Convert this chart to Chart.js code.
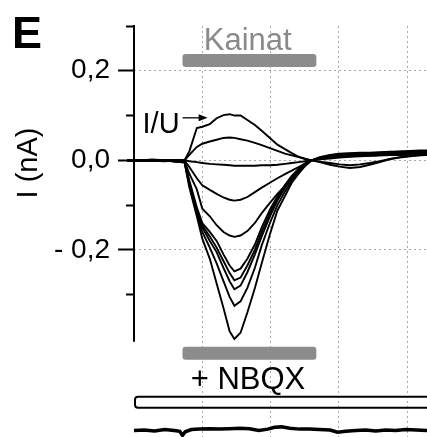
<!DOCTYPE html>
<html>
<head>
<meta charset="utf-8">
<script src="https://cdn.jsdelivr.net/npm/chart.js@4.4.1/dist/chart.umd.min.js"></script>
<style>
  html, body { margin: 0; padding: 0; background: #fff; }
  canvas { display: block; }
</style>
</head>
<body>
<canvas id="chart" width="427" height="437"></canvas>
<script>
// ===================== Data =====================
// sample times, one grid division = 1
const timePts = [-0.26, -0.10, 0.08, 0.26, 0.43, 0.59, 0.74, 0.81, 0.92, 1.00,
  1.11, 1.21, 1.31, 1.40, 1.47, 1.56, 1.66, 1.77, 1.87, 1.99,
  2.10, 2.21, 2.31, 2.41, 2.51, 2.60, 2.72, 2.87, 3.01, 3.16,
  3.31, 3.45, 3.60, 3.75, 3.89, 4.04, 4.19, 4.29];

// currents in nA, kainate responses at increasing holding potentials
const traceA = [0.001, 0.000, -0.001, 0.002, 0.000, 0.001, 0.000, 0.020, 0.072, 0.075,
  0.081, 0.094, 0.101, 0.103, 0.100, 0.100, 0.090, 0.079, 0.066, 0.050,
  0.035, 0.025, 0.016, 0.008, 0.003, 0.000, -0.004, -0.010, -0.014, -0.017,
  -0.015, -0.010, -0.004, 0.003, 0.007, 0.010, 0.012, 0.013];
const traceB = [0.000, 0.001, 0.000, -0.001, 0.001, 0.000, 0.000, 0.012, 0.030, 0.037,
  0.042, 0.046, 0.050, 0.051, 0.050, 0.047, 0.044, 0.039, 0.034, 0.027,
  0.021, 0.015, 0.011, 0.007, 0.003, 0.000, -0.003, -0.006, -0.009, -0.011,
  -0.009, -0.006, -0.002, 0.003, 0.006, 0.009, 0.011, 0.012];
const traceC = [-0.001, 0.000, 0.001, 0.000, -0.001, 0.000, 0.000, -0.002, -0.004, -0.006,
  -0.008, -0.009, -0.010, -0.011, -0.012, -0.012, -0.012, -0.012, -0.011, -0.011,
  -0.010, -0.008, -0.006, -0.004, -0.002, 0.000, 0.002, 0.004, 0.006, 0.008,
  0.009, 0.010, 0.011, 0.012, 0.012, 0.013, 0.014, 0.014];
const traceD = [0.000, -0.001, 0.000, 0.001, -0.001, 0.000, -0.001, -0.015, -0.040, -0.056,
  -0.066, -0.075, -0.083, -0.088, -0.090, -0.088, -0.082, -0.071, -0.061, -0.050,
  -0.040, -0.031, -0.023, -0.015, -0.007, 0.000, 0.003, 0.006, 0.008, 0.009,
  0.010, 0.010, 0.011, 0.012, 0.012, 0.013, 0.014, 0.014];
const traceE = [0.001, 0.000, -0.001, 0.000, 0.001, -0.001, -0.002, -0.030, -0.065, -0.108,
  -0.125, -0.145, -0.160, -0.168, -0.171, -0.168, -0.158, -0.140, -0.118, -0.095,
  -0.075, -0.057, -0.040, -0.025, -0.011, 0.000, 0.004, 0.007, 0.010, 0.011,
  0.011, 0.012, 0.012, 0.013, 0.014, 0.015, 0.016, 0.016];
const traceF = [0.000, 0.001, 0.000, -0.001, 0.000, -0.002, -0.003, -0.045, -0.105, -0.140,
  -0.160, -0.180, -0.210, -0.235, -0.248, -0.242, -0.220, -0.188, -0.150, -0.110,
  -0.080, -0.055, -0.035, -0.019, -0.007, 0.000, 0.005, 0.009, 0.012, 0.013,
  0.013, 0.014, 0.014, 0.015, 0.016, 0.017, 0.018, 0.018];
const traceG = [-0.001, 0.000, 0.001, 0.000, -0.002, -0.001, -0.003, -0.050, -0.110, -0.145,
  -0.170, -0.195, -0.225, -0.252, -0.268, -0.262, -0.235, -0.200, -0.160, -0.118,
  -0.085, -0.058, -0.037, -0.020, -0.007, 0.000, 0.005, 0.009, 0.012, 0.014,
  0.014, 0.015, 0.015, 0.016, 0.017, 0.018, 0.019, 0.019];
const traceH = [0.000, -0.001, 0.000, 0.001, -0.001, -0.002, -0.004, -0.050, -0.115, -0.150,
  -0.180, -0.205, -0.240, -0.270, -0.288, -0.280, -0.250, -0.210, -0.170, -0.125,
  -0.090, -0.062, -0.040, -0.022, -0.008, 0.000, 0.006, 0.010, 0.013, 0.014,
  0.015, 0.015, 0.016, 0.017, 0.018, 0.019, 0.020, 0.020];
const traceI = [0.001, 0.000, -0.001, 0.000, 0.000, -0.002, -0.004, -0.055, -0.120, -0.160,
  -0.195, -0.230, -0.270, -0.305, -0.325, -0.315, -0.285, -0.240, -0.190, -0.140,
  -0.100, -0.070, -0.045, -0.025, -0.010, 0.000, 0.006, 0.011, 0.014, 0.015,
  0.016, 0.016, 0.017, 0.018, 0.019, 0.020, 0.021, 0.021];
const traceJ = [0.000, 0.001, 0.000, -0.001, 0.001, -0.003, -0.005, -0.060, -0.125, -0.175,
  -0.220, -0.275, -0.330, -0.382, -0.399, -0.385, -0.340, -0.285, -0.230, -0.165,
  -0.112, -0.080, -0.050, -0.030, -0.012, 0.000, 0.007, 0.012, 0.015, 0.016,
  0.017, 0.017, 0.018, 0.019, 0.020, 0.021, 0.022, 0.022];

// control recording with NBQX, plotted on its own offset axis
const nbqxTime = [0.00, 0.15, 0.30, 0.45, 0.59, 0.67, 0.71, 0.75, 0.84, 0.96,
  1.11, 1.25, 1.40, 1.55, 1.69, 1.83, 1.96, 2.06, 2.16, 2.28,
  2.43, 2.57, 2.71, 2.87, 2.98, 3.10, 3.25, 3.39, 3.54, 3.69,
  3.83, 3.98, 4.13, 4.29];
const nbqxTrace = [-0.001, 0.000, -0.002, 0.001, -0.001, -0.003, -0.012, -0.004, 0.001, 0.002,
  0.003, 0.002, 0.003, 0.004, 0.003, -0.001, 0.002, 0.006, 0.007, 0.004,
  0.002, 0.002, 0.001, 0.000, -0.005, -0.003, -0.001, 0.000, -0.002, 0.000,
  -0.001, 0.001, 0.000, -0.001];

const yTickValues = [0.3, 0.2, 0.1, 0, -0.1, -0.2, -0.3];
const yTickLabels = ['', '0,2', '', '0,0', '', '- 0,2', ''];
const yGridValues = [0.2, 0, -0.2];
const xGridValues = [1, 2, 3, 4];
const axisSpan = [0.3, -0.405];

// drug application periods (time units)
const kainatBar = [0.71, 2.67];
const nbqxBar = [0.71, 2.67];
const perfusionBar = [0.0, 4.4];

const traces = [traceA, traceB, traceC, traceD, traceE, traceF, traceG, traceH, traceI, traceJ];

// ===================== Styles =====================
const FONT = "'Liberation Sans', Arial, sans-serif";
const BAR_GRAY = '#8c8c8c';
const GRID_GRAY = '#a8a8a8';

const datasets = traces.map(vals => ({
  data: vals.map((v, i) => ({ x: timePts[i], y: v })),
  borderColor: '#000',
  borderWidth: 1.9,
  pointRadius: 0,
  tension: 0,
  clip: false,
  yAxisID: 'y',
}));
datasets.push({
  data: nbqxTrace.map((v, i) => ({ x: nbqxTime[i], y: v })),
  borderColor: '#000',
  borderWidth: 3.5,
  pointRadius: 0,
  tension: 0,
  clip: false,
  yAxisID: 'yNbqx',
});

// bars, labels, arrow and the shortened y axis line
const annotations = {
  id: 'annotations',
  afterDatasetsDraw(chart) {
    const { ctx, scales: { x, y } } = chart;
    ctx.save();

    // y axis line only over the recording range
    ctx.strokeStyle = '#000';
    ctx.lineWidth = 2;
    ctx.beginPath();
    ctx.moveTo(x.getPixelForValue(0), y.getPixelForValue(axisSpan[0]) - 1);
    ctx.lineTo(x.getPixelForValue(0), y.getPixelForValue(axisSpan[1]));
    ctx.stroke();

    const bar = (range, level, h, fill) => {
      const x0 = x.getPixelForValue(range[0]);
      const x1 = x.getPixelForValue(range[1]);
      const yc = y.getPixelForValue(level);
      ctx.beginPath();
      ctx.roundRect(x0, yc - h / 2, x1 - x0, h, 3);
      ctx.fillStyle = fill;
      ctx.fill();
    };
    bar(kainatBar, 0.223, 13, BAR_GRAY);
    bar(nbqxBar, -0.431, 13, BAR_GRAY);

    // open perfusion bar
    const px0 = x.getPixelForValue(perfusionBar[0]) + 1;
    const px1 = x.getPixelForValue(perfusionBar[1]);
    const pyc = y.getPixelForValue(-0.5405);
    ctx.beginPath();
    ctx.roundRect(px0, pyc - 5.5, px1 - px0, 11, 3);
    ctx.strokeStyle = '#000';
    ctx.lineWidth = 2;
    ctx.stroke();

    // texts
    ctx.textBaseline = 'alphabetic';
    ctx.textAlign = 'center';
    ctx.font = `31px ${FONT}`;
    ctx.fillStyle = '#8a8a8a';
    ctx.fillText('Kainat', x.getPixelForValue(1.665), y.getPixelForValue(0.247));
    ctx.fillStyle = '#000';
    ctx.fillText('+ NBQX', x.getPixelForValue(1.669), y.getPixelForValue(-0.5103));

    ctx.textAlign = 'left';
    ctx.font = `29px ${FONT}`;
    ctx.fillText('I/U', x.getPixelForValue(0.125), y.getPixelForValue(0.0614));

    // arrow to the outward trace
    const ax0 = x.getPixelForValue(0.711);
    const ax1 = x.getPixelForValue(1.078);
    const ay = y.getPixelForValue(0.0949);
    ctx.lineWidth = 1.3;
    ctx.beginPath();
    ctx.moveTo(ax0, ay);
    ctx.lineTo(ax1 - 6, ay);
    ctx.stroke();
    ctx.beginPath();
    ctx.moveTo(ax1, ay);
    ctx.lineTo(ax1 - 9, ay - 3.5);
    ctx.lineTo(ax1 - 9, ay + 3.5);
    ctx.closePath();
    ctx.fill();

    // panel letter
    ctx.font = `bold 45px ${FONT}`;
    ctx.fillText('E', 12, 48);

    // y axis title
    ctx.font = `29px ${FONT}`;
    ctx.translate(37, 163);
    ctx.rotate(-Math.PI / 2);
    ctx.textAlign = 'center';
    ctx.fillText('I (nA)', 0, 0);

    ctx.restore();
  },
};

// ===================== Chart =====================
new Chart(document.getElementById('chart'), {
  type: 'line',
  data: { datasets },
  plugins: [annotations],
  options: {
    responsive: false,
    animation: false,
    events: [],
    layout: { padding: { top: 26, right: 0, bottom: 0, left: 0 } },
    plugins: { legend: { display: false }, tooltip: { enabled: false } },
    scales: {
      x: {
        type: 'linear',
        min: 0,
        max: 4.29,
        afterBuildTicks: s => { s.ticks = xGridValues.map(v => ({ value: v })); },
        afterFit: s => { s.height = 0; },
        ticks: { display: false },
        border: { display: false, dash: [2, 3] },
        grid: { color: GRID_GRAY, lineWidth: 1, drawTicks: false },
      },
      y: {
        type: 'linear',
        min: -0.618,
        max: 0.3,
        afterBuildTicks: s => { s.ticks = yTickValues.map(v => ({ value: v })); },
        afterFit: s => { s.width = 134; s.paddingTop = 0; s.paddingBottom = 0; },
        ticks: {
          callback: v => yTickLabels[yTickValues.indexOf(v)],
          font: { family: FONT, size: 28 },
          color: '#000',
          padding: 8,
        },
        border: { display: false, dash: [2, 3] },
        grid: {
          color: c => yGridValues.includes(c.tick.value) ? GRID_GRAY : 'rgba(0,0,0,0)',
          lineWidth: 1,
          tickColor: '#000',
          tickWidth: 2,
          tickLength: 16,
          // short minor ticks: hide the outer half of the tick
          tickBorderDash: c => yTickLabels[yTickValues.indexOf(c.tick.value)] ? [] : [8, 8],
          tickBorderDashOffset: c => yTickLabels[yTickValues.indexOf(c.tick.value)] ? 0 : 8,
        },
      },
      yNbqx: {
        type: 'linear',
        display: false,
        min: -0.0156,
        max: 0.9024,
      },
    },
  },
});
</script>
</body>
</html>
